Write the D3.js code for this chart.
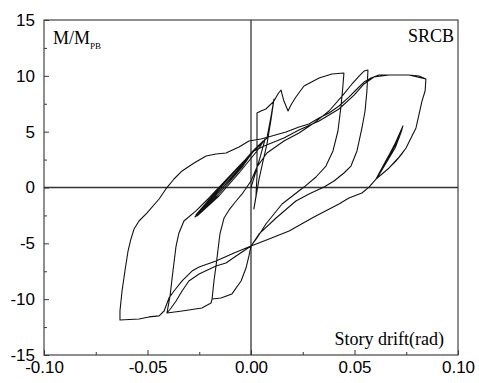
<!DOCTYPE html>
<html>
<head>
<meta charset="utf-8">
<script src="https://cdn.jsdelivr.net/npm/d3@7"></script>
<style>
  body { margin: 0; background: #fff; }
  .tick text { font-family: "Liberation Sans", Arial, sans-serif; font-size: 17px; fill: #000; }
  .lbl { font-family: "Liberation Serif", "Times New Roman", serif; fill: #000; }
</style>
</head>
<body>
<div id="chart"></div>
<script>
// axis ticks
var xTicks = [-0.10, -0.05, 0, 0.05, 0.10];
var xMinorTicks = [-0.075, -0.025, 0.025, 0.075];
var yTicks = [-15, -10, -5, 0, 5, 10, 15];
var yMinorTicks = [-12.5, -7.5, -2.5, 2.5, 7.5, 12.5];

// hysteresis branches, [story drift (rad), M/Mpb]
var elasticCycles = [[0,0],[0.0039,2.37],[0.0068,4.34],[0.0029,3.27],[-0.0058,1.30],[-0.0155,-0.76],
  [-0.0261,-2.55],[-0.0203,-1.21],[-0.0097,1.03],[0,3.09],[0.0058,4.16],
  [0.0014,3.27],[-0.0077,1.21],[-0.0184,-0.94],[-0.0266,-2.46],[-0.0217,-1.39],[-0.0116,0.76],
  [-0.001,2.82],[0.0048,3.9],
  [0.0005,3.1],[-0.0039,1.92],[-0.0164,-0.76],[-0.0271,-2.64],[-0.0193,-1.21],[-0.0068,1.48],
  [0.0019,3.45],[0.0077,4.43]];
var loadToPeak1 = [[0.0097,6.40],[0.0111,7.92],[0.0097,6.13],[0.0077,3.89],[0.0058,2.37],[0.0039,0.76],
  [0.0014,-1.92],[0.0024,-0.76],[0.0029,1.03],[0.0029,4.16],[0.0029,6.67],[0.0048,6.85],[0.0072,7.03],
  [0.0111,7.74],[0.013,8.37],[0.0145,8.73],[0.0159,7.74],[0.0179,6.85],[0.0193,7.39],[0.0217,8.10],
  [0.0256,9.09],[0.0329,9.80],[0.0391,10.16],[0.0449,10.25]];
var unloadPeak1 = [[0.0444,9.09],[0.0435,7.30],[0.042,5.06],[0.0396,3.27],[0.0362,1.92],[0.0314,0.94],
  [0.0256,0.04],[0.015,-1.48],[0.0072,-3.27],[0.0029,-4.52],[0,-5.24],[-0.001,-6.13],[-0.0024,-7.21],
  [-0.0048,-8.37],[-0.0092,-9.53],[-0.0145,-9.89],[-0.0188,-9.98]];
var reloadToPeak2 = [[-0.0179,-8.37],[-0.0169,-7.03],[-0.0159,-5.51],[-0.015,-4.16],[-0.013,-2.73],
  [-0.0106,-2.01],[-0.0072,-1.21],[-0.0043,-0.58],[0,0.58],[0.0029,1.84],[0.0077,3.09],[0.0159,4.16],
  [0.0232,4.88],[0.0304,5.77],[0.0377,6.85],[0.044,8.19],[0.0488,9.27],[0.0522,9.98],[0.0546,10.43],
  [0.0565,10.52]];
var unloadPeak2 = [[0.056,8.64],[0.0551,6.85],[0.0536,5.33],[0.0512,3.27],[0.0483,1.92],[0.0449,1.30],
  [0.0401,0.58],[0.0353,0.04],[0.028,-0.58],[0.0217,-1.21],[0.0121,-2.73],[0.0039,-4.16],[0,-5.24],
  [-0.0072,-6.13],[-0.0121,-6.76],[-0.0169,-7.03],[-0.0251,-7.74],[-0.03,-8.37],[-0.0333,-9.27],
  [-0.0362,-10.16],[-0.0386,-10.79],[-0.0406,-11.24]];
var reloadToPeak3 = [[-0.0391,-9.71],[-0.0377,-7.48],[-0.0362,-5.24],[-0.0348,-4.07],[-0.0324,-3.00],
  [-0.0266,-2.10],[-0.0203,-0.94],[-0.014,0.31],[-0.0058,1.92],[0.0014,3.27],[0.0063,3.72],[0.0159,4.43],
  [0.0232,5.15],[0.0329,5.95],[0.0425,7.03],[0.0498,8.28],[0.0546,9.27],[0.0594,9.89],[0.0667,10.07],
  [0.0763,10.07],[0.0845,9.71]];
var unloadPeak3 = [[0.0841,8.64],[0.0826,7.74],[0.0812,6.58],[0.0797,5.33],[0.0773,4.43],[0.0749,3.54],
  [0.0725,2.91],[0.07,2.37],[0.0667,1.75],[0.0633,1.21],[0.0604,0.76],[0.057,0.04],[0.0536,-0.49],
  [0.0473,-0.94],[0.0425,-1.48],[0.0304,-2.64],[0.0184,-3.89],[0.0087,-4.61],[0,-5.24],[-0.0082,-5.86],
  [-0.0169,-6.58],[-0.0251,-7.12],[-0.0285,-7.48],[-0.0333,-8.37],[-0.0372,-9.27],[-0.0396,-9.89],
  [-0.042,-11.06],[-0.0444,-11.50],[-0.0493,-11.59],[-0.0541,-11.77],[-0.0633,-11.86]];
var reloadToPeak4 = [[-0.0633,-11.06],[-0.0623,-9.27],[-0.0609,-7.48],[-0.0594,-5.69],[-0.058,-4.61],
  [-0.0565,-3.72],[-0.0541,-3.00],[-0.0502,-2.28],[-0.0444,-1.03],[-0.0411,-0.13],[-0.0372,0.76],
  [-0.0333,1.48],[-0.0275,2.19],[-0.0217,2.82],[-0.0169,3.00],[-0.0121,3.09],[-0.0058,3.63],[-0.001,4.16],
  [0.0048,4.34],[0.0101,4.61],[0.0169,4.97],[0.0232,5.42],[0.028,5.69],[0.0329,6.22],[0.0377,6.67],
  [0.0425,7.30],[0.0473,8.10],[0.0512,8.82],[0.0546,9.44],[0.058,9.80],[0.0618,10.07],[0.0691,10.07],
  [0.0763,10.07],[0.0812,9.98],[0.0845,9.71]];
var finalUnload = [[0.0841,8.64],[0.0826,7.74],[0.0812,6.58],[0.0797,5.33],[0.0773,4.43],[0.0749,3.54],
  [0.0715,2.73],[0.0667,1.75],[0.0633,1.21],[0.0604,0.76],
  [0.0643,2.10],[0.0691,3.72],[0.0734,5.51],[0.0715,4.43],[0.0676,3.09],[0.0633,1.66],[0.0604,0.76],
  [0.0652,2.37],[0.07,4.07],[0.0729,5.15],[0.0696,3.54],[0.0647,2.01],[0.0609,0.85],
  [0.057,0.04],[0.0536,-0.49],[0.0473,-0.94],[0.0425,-1.48],[0.0304,-2.64],[0.0184,-3.89],[0.0087,-4.61],
  [0,-5.24],[-0.001,-6.13],[-0.0024,-7.21],[-0.0048,-8.37],[-0.0092,-9.53],[-0.0145,-9.89],[-0.0188,-9.98],
  [-0.0193,-10.34],[-0.0237,-10.79],[-0.0333,-11.06],[-0.0406,-11.24]];

var branches = [elasticCycles, loadToPeak1, unloadPeak1, reloadToPeak2, unloadPeak2,
                reloadToPeak3, unloadPeak3, reloadToPeak4, finalUnload];

var W = 479, H = 383;
var mLeft = 44, mRight = 458, mTop = 20, mBottom = 355;

var svg = d3.select("#chart").append("svg")
    .attr("width", W).attr("height", H);

var x = d3.scaleLinear().domain([-0.1, 0.1]).range([mLeft, mRight]);
var y = d3.scaleLinear().domain([-15, 15]).range([mBottom, mTop]);

// minor ticks first, then major with labels
svg.append("g").attr("transform", "translate(0," + mBottom + ")")
    .call(d3.axisBottom(x).tickValues(xMinorTicks).tickSize(-3).tickFormat(""))
    .call(g => g.select(".domain").remove());
svg.append("g").attr("transform", "translate(" + mLeft + ",0)")
    .call(d3.axisLeft(y).tickValues(yMinorTicks).tickSize(-3).tickFormat(""))
    .call(g => g.select(".domain").remove());

svg.append("g").attr("transform", "translate(0," + mBottom + ")")
    .call(d3.axisBottom(x).tickValues(xTicks).tickSize(-5).tickPadding(9)
          .tickFormat(d => d.toFixed(2)))
    .call(g => g.select(".domain").remove())
    .call(g => g.selectAll(".tick text").attr("dy", "0.55em"));
svg.append("g").attr("transform", "translate(" + mLeft + ",0)")
    .call(d3.axisLeft(y).tickValues(yTicks).tickSize(-5).tickPadding(9)
          .tickFormat(d => String(d)))
    .call(g => g.select(".domain").remove());

svg.selectAll(".tick line").attr("stroke", "#333");

// frame
svg.append("rect")
    .attr("x", mLeft).attr("y", mTop)
    .attr("width", mRight - mLeft).attr("height", mBottom - mTop)
    .attr("fill", "none").attr("stroke", "#444").attr("stroke-width", 1.2);

// zero lines
svg.append("line")
    .attr("x1", mLeft).attr("x2", mRight).attr("y1", y(0)).attr("y2", y(0))
    .attr("stroke", "#333").attr("stroke-width", 1.3);
svg.append("line")
    .attr("x1", x(0)).attr("x2", x(0)).attr("y1", mTop).attr("y2", mBottom)
    .attr("stroke", "#333").attr("stroke-width", 1.3);

// hysteresis curve
var line = d3.line().x(d => x(d[0])).y(d => y(d[1]));
var pts = [];
branches.forEach(b => { pts = pts.concat(b); });
svg.append("path")
    .datum(pts)
    .attr("d", line)
    .attr("fill", "none")
    .attr("stroke", "#111")
    .attr("stroke-width", 1.1)
    .attr("stroke-linejoin", "round");

// labels
var ml = svg.append("text").attr("class", "lbl")
    .attr("x", 53).attr("y", 44).style("font-size", "18px");
ml.append("tspan").text("M/M");
ml.append("tspan").attr("dy", 5).style("font-size", "9px").text("PB");

svg.append("text").attr("class", "lbl")
    .attr("x", 454).attr("y", 42).attr("text-anchor", "end")
    .style("font-size", "18px").text("SRCB");

svg.append("text").attr("class", "lbl")
    .attr("x", 444).attr("y", 345).attr("text-anchor", "end")
    .style("font-size", "18px").text("Story drift(rad)");
</script>
</body>
</html>
